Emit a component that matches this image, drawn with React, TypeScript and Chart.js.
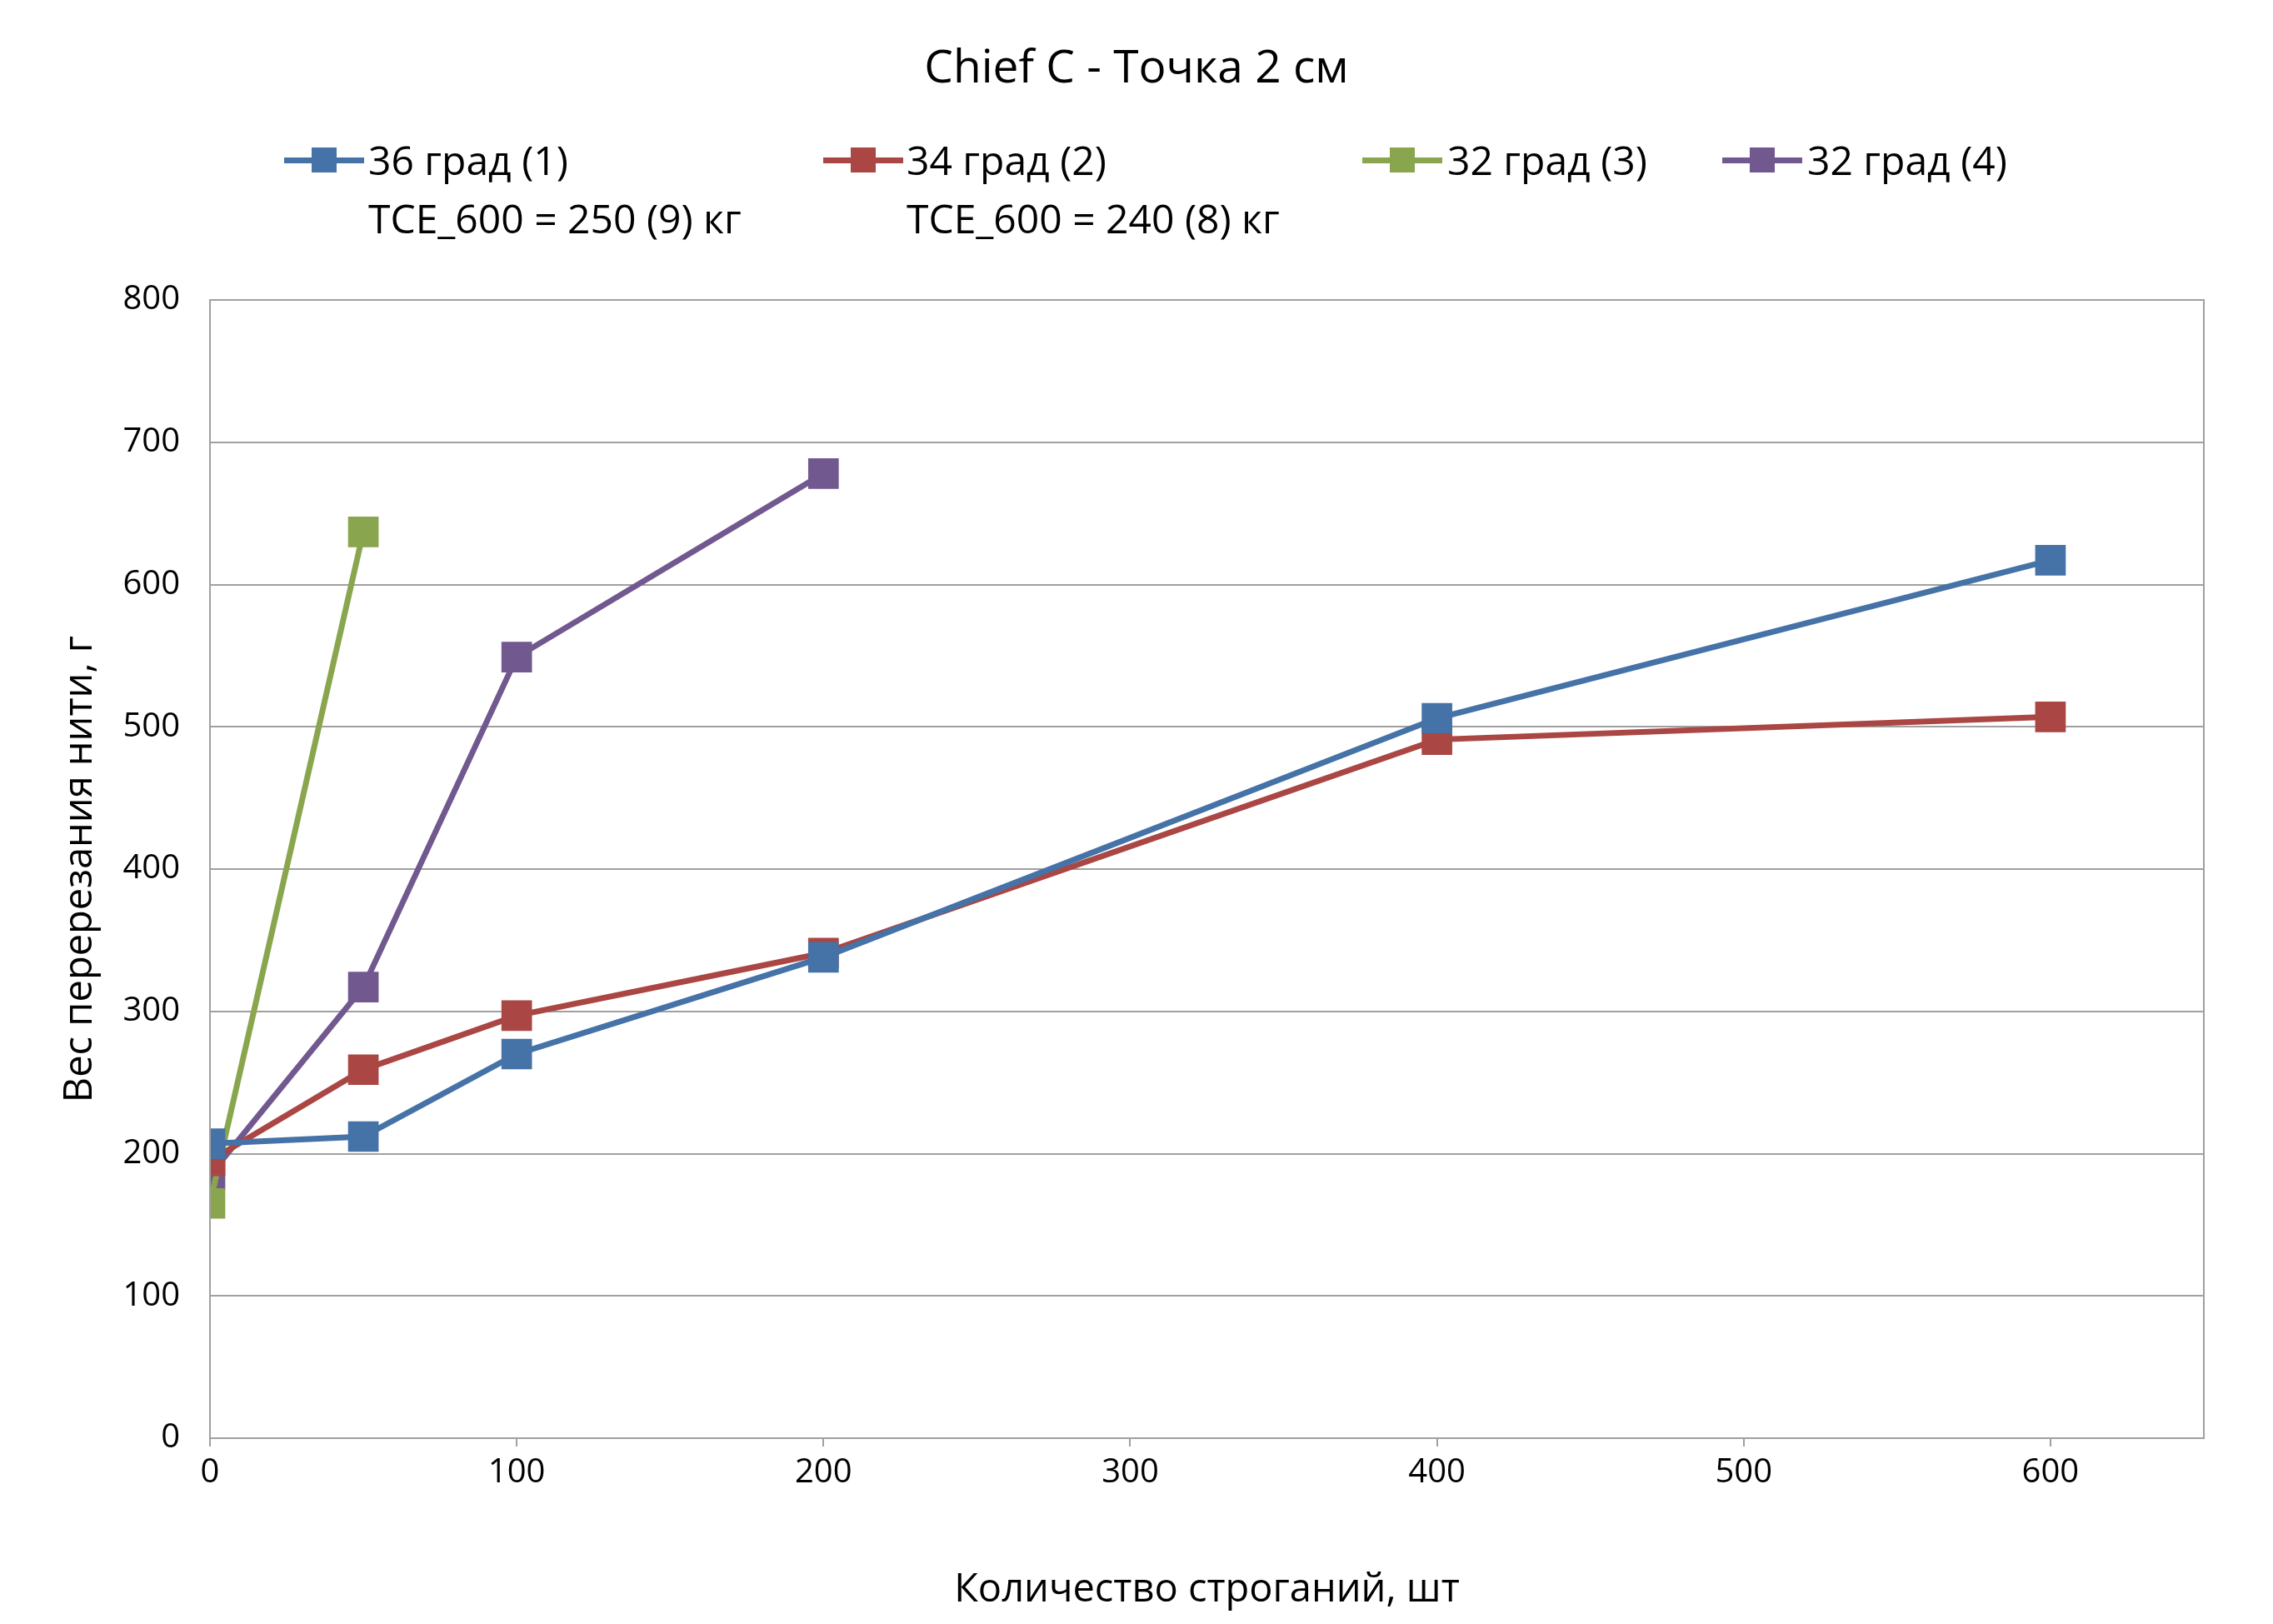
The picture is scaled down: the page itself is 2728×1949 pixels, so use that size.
import React, { useEffect, useRef } from "react";
import { Chart, registerables } from "chart.js";
Chart.register(...registerables);

const FONT = "'Open Sans', 'Noto Sans', sans-serif";
const seriesNames = ["36 град (1)", "34 град (2)", "32 град (3)", "32 град (4)"];
const seriesSub = ["TCE_600 = 250 (9) кг", "TCE_600 = 240 (8) кг", "", ""];
const colors = ["#4572A7", "#AA4643", "#89A54E", "#71588F"];
const xBlue = [0, 50, 100, 200, 400, 600];
const yBlue = [207, 212, 270, 338, 506, 617];
const xRed = [0, 50, 100, 200, 400, 600];
const yRed = [195, 259, 297, 341, 491, 507];
const xGreen = [0, 50];
const yGreen = [165, 637];
const xPurple = [0, 50, 100, 200];
const yPurple = [185, 317, 549, 678];
const title = "Chief C - Точка 2 см";
const xTitle = "Количество строганий, шт";
const yTitle = "Вес перерезания нити, г";

const legendPos = [
  { mx: 333, tx: 434 },
  { mx: 980, tx: 1080 },
  { mx: 1627, tx: 1729 },
  { mx: 2059, tx: 2161 },
];

export default function App() {
  const ref = useRef<HTMLCanvasElement>(null);
  useEffect(() => {
    const xs = [xBlue, xRed, xGreen, xPurple];
    const ys = [yBlue, yRed, yGreen, yPurple];
    const border = {
      id: "border",
      afterDraw(c: any) {
        const a = c.chartArea;
        const ctx = c.ctx;
        ctx.save();
        ctx.strokeStyle = "#a0a0a0";
        ctx.lineWidth = 2;
        ctx.strokeRect(a.left, a.top, a.right - a.left, a.bottom - a.top);
        ctx.restore();
      },
    };
    const chart = new Chart(ref.current!, {
      type: "line",
      data: {
        datasets: seriesNames.map((n, i) => ({
          label: n,
          data: xs[i].map((x, j) => ({ x, y: ys[i][j] })),
          borderColor: colors[i],
          backgroundColor: colors[i],
          borderWidth: 7,
          pointStyle: "rect",
          pointRadius: 21,
          tension: 0,
        })),
      },
      options: {
        animation: false,
        responsive: false,
        layout: { padding: { left: 0, right: 75, top: 352, bottom: 0 } },
        plugins: { legend: { display: false }, tooltip: { enabled: false } },
        scales: {
          x: {
            type: "linear",
            min: 0,
            max: 650,
            afterFit: (s: any) => { s.height = 215; },
            afterBuildTicks: (s: any) => { s.ticks = [0, 100, 200, 300, 400, 500, 600].map((v) => ({ value: v })); },
            grid: { display: true, drawOnChartArea: false, color: "#a0a0a0", lineWidth: 2, tickLength: 10 },
            border: { color: "#a0a0a0", width: 2 },
            ticks: { color: "#000", font: { family: FONT, size: 40 }, padding: 8 },
            title: { display: true, text: xTitle, color: "#000", font: { family: FONT, size: 47 }, padding: { top: 0 } },
          },
          y: {
            min: 0,
            max: 800,
            afterFit: (s: any) => { s.width = 244; },
            grid: { color: "#a0a0a0", lineWidth: 2, tickLength: 0 },
            border: { color: "#a0a0a0", width: 2 },
            ticks: { stepSize: 100, color: "#000", font: { family: FONT, size: 40 }, padding: 36 },
            title: { display: true, text: yTitle, color: "#000", font: { family: FONT, size: 47 }, padding: { top: 60, bottom: 0 } },
          },
        },
      },
      plugins: [border],
    } as any);
    return () => chart.destroy();
  }, []);
  return (
    <div style={{ position: "relative", width: 2712, height: 1933, fontFamily: FONT, background: "#fff" }}>
      <canvas ref={ref} width={2712} height={1933} style={{ position: "absolute", left: 0, top: 0 }} />
      <div style={{ position: "absolute", left: 0, width: 2712, top: 32, textAlign: "center", fontSize: 55 }}>{title}</div>
      {seriesNames.map((n, i) => (
        <React.Fragment key={n}>
          <div style={{ position: "absolute", left: legendPos[i].mx, top: 181, width: 96, height: 7, background: colors[i] }} />
          <div style={{ position: "absolute", left: legendPos[i].mx + 33, top: 169, width: 30, height: 30, background: colors[i] }} />
          <div style={{ position: "absolute", left: legendPos[i].tx, top: 152, fontSize: 48, lineHeight: "64px", whiteSpace: "nowrap" }}>{n}</div>
          {seriesSub[i] && (
            <div style={{ position: "absolute", left: legendPos[i].tx, top: 222, fontSize: 48, lineHeight: "64px", whiteSpace: "nowrap" }}>{seriesSub[i]}</div>
          )}
        </React.Fragment>
      ))}
    </div>
  );
}
